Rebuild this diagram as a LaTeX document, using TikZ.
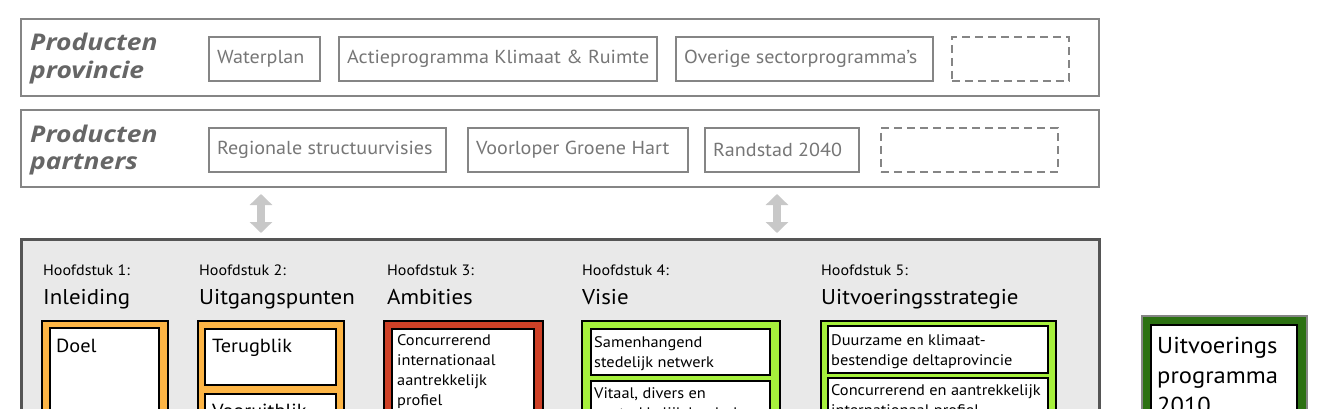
\documentclass[tikz,border=0pt]{standalone}
\usepackage{fontspec}
\setmainfont{PT Sans}[FakeStretch=1.07]
\newfontfamily\titlefont{Open Sans}[FakeStretch=1.15]
\usetikzlibrary{arrows.meta,calc}
\definecolor{pgray}{HTML}{858585}
\definecolor{ptxt}{HTML}{767676}
\definecolor{ttl}{HTML}{666666}
\definecolor{panelfill}{HTML}{E9E9E9}
\definecolor{panelline}{HTML}{555555}
\definecolor{orng}{HTML}{FDB545}
\definecolor{redc}{HTML}{CE4127}
\definecolor{lime}{HTML}{A6F03C}
\definecolor{dgreen}{HTML}{2C7112}
\definecolor{arrgray}{HTML}{C8C8C8}
\tikzset{
  panel/.style={draw=pgray, line width=2pt, anchor=north west, inner sep=0pt},
  pbox/.style={draw=pgray, line width=1.8pt, anchor=north west, inner sep=0pt, minimum height=44pt},
  dbox/.style={pbox, dash pattern=on 8pt off 5pt},
  ptext/.style={text=ptxt, font=\fontsize{18.8}{22}\selectfont, anchor=west, inner sep=0pt},
  ptitle/.style={text=ttl, font=\titlefont\fontsize{23}{28}\bfseries\itshape\selectfont, anchor=base west, inner sep=0pt, align=left},
  mainpanel/.style={draw=panelline, fill=panelfill, line width=2.5pt, anchor=north west, inner sep=0pt},
  chap/.style={font=\fontsize{15}{18}\selectfont, anchor=base west, inner sep=0pt},
  chapt/.style={font=\fontsize{21.4}{25}\selectfont, anchor=base west, inner sep=0pt},
  frame/.style={draw=black, line width=1.5pt, anchor=north west, inner sep=0pt},
  inner/.style={draw=black, fill=white, line width=1.8pt, anchor=north west, inner sep=0pt},
  itext/.style={font=\fontsize{15.3}{20}\selectfont, anchor=base west, inner sep=0pt, align=left},
  wtext/.style={font=\fontsize{19}{22}\selectfont, anchor=base west, inner sep=0pt},
  btext/.style={font=\fontsize{23}{30}\selectfont, anchor=base west, inner sep=0pt, align=left},
  dblarrow/.style={draw=arrgray, line width=8pt, {Triangle[width=22pt,length=11pt]}-{Triangle[width=22pt,length=11pt]}}
}
\begin{document}
\begin{tikzpicture}[x=1pt,y=-1pt]
\useasboundingbox (0,0) rectangle (1328,409);
\clip (0,0) rectangle (1328,409);
% top panels (multi-line text: anchor is at the baseline of the last line)
\node[panel, minimum width=1078pt, minimum height=77pt] (prov) at (20,18) {};
\node[ptitle] (provt) at (30,79) {Producten\\provincie};
\node[pbox, minimum width=111pt] (wp) at (208,36) {};
\node[ptext] at ($(wp.west)+(9,0)$) {Waterplan};
\node[pbox, minimum width=318pt] (ap) at (338,36) {};
\node[ptext] at ($(ap.west)+(9,0)$) {Actieprogramma Klimaat \& Ruimte};
\node[pbox, minimum width=257pt] (os) at (675,36) {};
\node[ptext] at ($(os.west)+(9,0)$) {Overige sectorprogramma’s};
\node[dbox, minimum width=117pt] (d1) at (951,36) {};

\node[panel, minimum width=1078pt, minimum height=77pt] (part) at (20,109) {};
\node[ptitle] (partt) at (30,170) {Producten\\partners};
\node[pbox, minimum width=237pt] (rs) at (208,127) {};
\node[ptext] at ($(rs.west)+(9,0)$) {Regionale structuurvisies};
\node[pbox, minimum width=220pt] (vg) at (467,127) {};
\node[ptext] at ($(vg.west)+(9,0)$) {Voorloper Groene Hart};
\node[pbox, minimum width=154pt] (rd) at (704,127) {};
\node[ptext] at ($(rd.west)+(9,0)$) {Randstad 2040};
\node[dbox, minimum width=177pt] (d2) at (880,127) {};

% double arrows
\coordinate (a1t) at (261,194); \coordinate (a1b) at (261,233);
\coordinate (a2t) at (777,194); \coordinate (a2b) at (777,233);
\draw[dblarrow] (a1t) -- (a1b);
\draw[dblarrow] (a2t) -- (a2b);

% main panel
\node[mainpanel, minimum width=1078pt, minimum height=400pt] (main) at (20,238) {};

% chapter 1
\node[chap] at (43,275) {Hoofdstuk 1:};
\node[chapt] at (43,304) {Inleiding};
\node[frame, fill=orng, minimum width=126pt, minimum height=200pt] (f1) at (41,320) {};
\node[inner, minimum width=109pt, minimum height=180pt] (doel) at (49,327) {};
\node[wtext] at (56,352) {Doel};

% chapter 2
\node[chap] at (199,275) {Hoofdstuk 2:};
\node[chapt] at (199,304) {Uitgangspunten};
\node[frame, fill=orng, minimum width=146pt, minimum height=200pt] (f2) at (197,320) {};
\node[inner, minimum width=131pt, minimum height=56pt] (terug) at (204,328) {};
\node[wtext] at (212,352) {Terugblik};
\node[inner, minimum width=131pt, minimum height=80pt] (voor) at (204,393) {};
\node[wtext] at (212,417) {Vooruitblik};

% chapter 3
\node[chap] at (387,275) {Hoofdstuk 3:};
\node[chapt] at (387,304) {Ambities};
\node[frame, fill=redc, minimum width=159pt, minimum height=200pt] (f3) at (383,320) {};
\node[inner, minimum width=142pt, minimum height=180pt] (amb) at (391,328) {};
\node[itext] at (397,405) {Concurrerend\\internationaal\\aantrekkelijk\\profiel};

% chapter 4
\node[chap] at (582,275) {Hoofdstuk 4:};
\node[chapt] at (582,304) {Visie};
\node[frame, fill=lime, minimum width=198pt, minimum height=200pt] (f4) at (581,320) {};
\node[inner, minimum width=179pt, minimum height=46pt] (sam) at (590,328) {};
\node[itext] at (594,367) {Samenhangend\\stedelijk netwerk};
\node[inner, minimum width=179pt, minimum height=60pt] (vit) at (590,380) {};
\node[itext] at (594,418) {Vitaal, divers en\\aantrekkelijk landschap};

% chapter 5
\node[chap] at (821,275) {Hoofdstuk 5:};
\node[chapt] at (821,304) {Uitvoeringsstrategie};
\node[frame, fill=lime, minimum width=235pt, minimum height=200pt] (f5) at (820,320) {};
\node[inner, minimum width=220pt, minimum height=47pt] (duur) at (827,325) {};
\node[itext] at (831,365) {Duurzame en klimaat-\\bestendige deltaprovincie};
\node[inner, minimum width=220pt, minimum height=60pt] (conc) at (827,377) {};
\node[itext] at (831,415) {Concurrerend en aantrekkelijk\\internationaal profiel};

% uitvoeringsprogramma
\node[draw=pgray, fill=dgreen, line width=1.5pt, anchor=north west, inner sep=0pt, minimum width=165pt, minimum height=200pt] (up) at (1141,315) {};
\node[inner, minimum width=146pt, minimum height=180pt] (upi) at (1150,324) {};
\node[btext] at (1157,413) {Uitvoerings\\programma\\2010};
\end{tikzpicture}
\end{document}
